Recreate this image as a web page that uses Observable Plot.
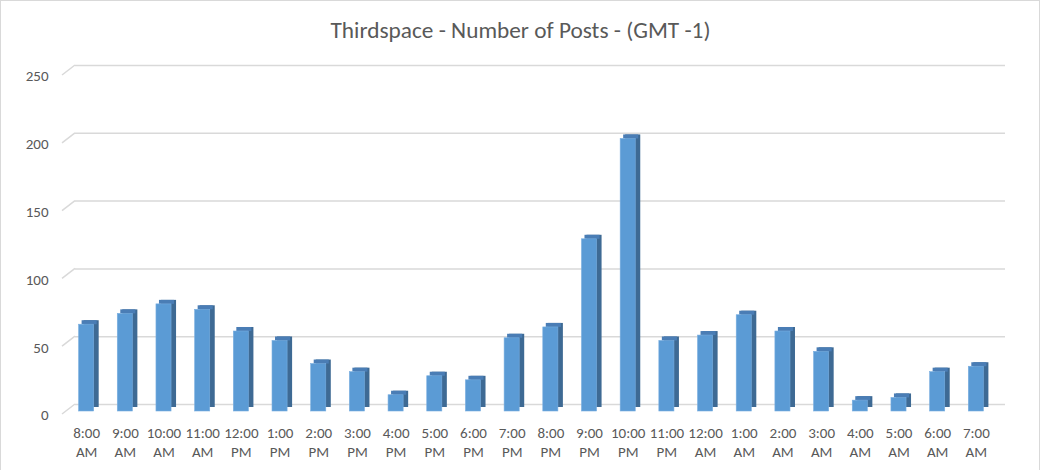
<!DOCTYPE html>
<html>
<head>
<meta charset="utf-8">
<script src="https://cdn.jsdelivr.net/npm/d3@7"></script>
<script src="https://cdn.jsdelivr.net/npm/@observablehq/plot@0.6"></script>
<style>
  html, body { margin: 0; padding: 0; background: #fff; }
  #wrap { position: relative; width: 1043px; height: 470px; overflow: hidden; }
  #border { position: absolute; left: 0; top: 0; width: 1040px; height: 475px; border: 1px solid #d9d9d9; box-sizing: border-box; pointer-events: none; }
  svg { display: block; }
</style>
</head>
<body>
<div id="wrap"><div id="chart"></div><div id="border"></div></div>
<script>
const title = "Thirdspace - Number of Posts - (GMT -1)";
const hours = ["8:00 AM","9:00 AM","10:00 AM","11:00 AM","12:00 PM","1:00 PM","2:00 PM","3:00 PM","4:00 PM","5:00 PM","6:00 PM","7:00 PM","8:00 PM","9:00 PM","10:00 PM","11:00 PM","12:00 AM","1:00 AM","2:00 AM","3:00 AM","4:00 AM","5:00 AM","6:00 AM","7:00 AM"];
const posts = [64, 72, 79, 75, 59, 52, 35, 29, 12, 26, 23, 54, 62, 127, 201, 52, 56, 71, 59, 44, 8, 10, 29, 33];
const yTicks = [0, 50, 100, 150, 200, 250];

const data = hours.map((h, i) => ({hour: h, posts: posts[i]}));
const font = "Calibri, Carlito, Lato, sans-serif";
const DX = 5, DY = -4;

// slanted gridline ends (side wall edge), drawn from the y scale
const slants = (index, scales, values, dims) => {
  const g = d3.create("svg:g");
  for (const t of yTicks) {
    const y = scales.y(t);
    g.append("line")
      .attr("x1", dims.marginLeft + 7).attr("y1", y + 3)
      .attr("x2", dims.marginLeft + 20).attr("y2", y - 7)
      .attr("stroke", "#d9d9d9").attr("stroke-width", 1.5);
  }
  return g.node();
};

const chart = Plot.plot({
  width: 1043,
  height: 470,
  marginLeft: 55,
  marginRight: 36,
  marginTop: 72,
  marginBottom: 59,
  style: {fontFamily: font, background: "white"},
  x: {domain: hours, padding: 0.61, round: false, axis: null},
  y: {domain: [0, 250], axis: null},
  marks: [
    Plot.ruleY(yTicks, {stroke: "#d9d9d9", strokeWidth: 1.5, dy: -7, insetLeft: 20, insetRight: 2}),
    slants,
    // side face
    Plot.barY(data, {x: "hour", y: "posts", fill: "#3e6a94", dx: DX, dy: DY}),
    // top face
    Plot.barY(data, {x: "hour", y1: "posts", y2: "posts", insetTop: -4, fill: "#4a7db5", dx: DX - 2, dy: 0}),
    // front face
    Plot.barY(data, {x: "hour", y: "posts", fill: "#5b9bd5", stroke: "#79aee0", strokeWidth: 0.6}),
    // y tick labels
    Plot.text(yTicks, {y: d => d, text: d => String(d), frameAnchor: "left", textAnchor: "end", dx: -7, dy: 4, fill: "#595959", fontSize: 15}),
    // x tick labels (two lines)
    Plot.text(hours, {x: d => d, text: d => d.replace(" ", "\n"), frameAnchor: "bottom", lineAnchor: "top", dy: 13, lineHeight: 1.27, fill: "#595959", fontSize: 15}),
    // title
    Plot.text([title], {frameAnchor: "top", dx: -11, dy: -42, text: d => d, fontSize: 23.3, fill: "#595959", lineAnchor: "middle"})
  ]
});
document.getElementById("chart").appendChild(chart);
</script>
</body>
</html>
